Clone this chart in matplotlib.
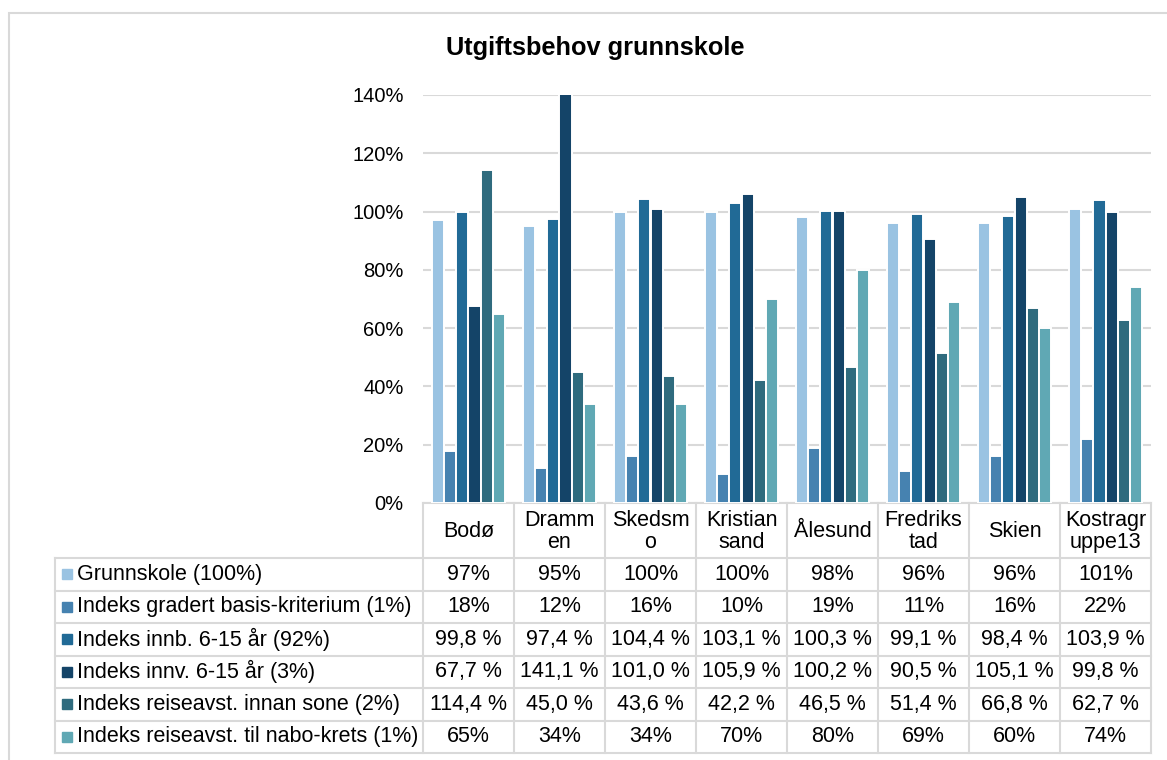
import matplotlib
matplotlib.use("Agg")
import matplotlib.pyplot as plt
from matplotlib.lines import Line2D
from matplotlib.patches import Rectangle
import numpy as np

plt.rcParams['font.family'] = ['Liberation Sans', 'DejaVu Sans']

# ---------------- data ----------------
title = "Utgiftsbehov grunnskole"
category_labels = ["Bodø", "Dramm\nen", "Skedsm\no", "Kristian\nsand", "Ålesund",
                   "Fredriks\ntad", "Skien", "Kostragr\nuppe13"]
series_names = ["Grunnskole (100%)",
                "Indeks gradert basis-kriterium (1%)",
                "Indeks innb. 6-15 år (92%)",
                "Indeks innv. 6-15 år (3%)",
                "Indeks reiseavst. innan sone (2%)",
                "Indeks reiseavst. til nabo-krets (1%)"]
grunnskole = [97, 95, 100, 100, 98, 96, 96, 101]
basis = [18, 12, 16, 10, 19, 11, 16, 22]
innb = [99.8, 97.4, 104.4, 103.1, 100.3, 99.1, 98.4, 103.9]
innv = [67.7, 141.1, 101.0, 105.9, 100.2, 90.5, 105.1, 99.8]
reise_sone = [114.4, 45.0, 43.6, 42.2, 46.5, 51.4, 66.8, 62.7]
reise_nabo = [65, 34, 34, 70, 80, 69, 60, 74]
decimals = [0, 0, 1, 1, 1, 0]   # display format for each table row
yticks = [0, 20, 40, 60, 80, 100, 120, 140]

colors = ["#9AC3E2", "#4682B0", "#216A96", "#144468", "#2F6B7E", "#60A8B4"]
series = [grunnskole, basis, innb, innv, reise_sone, reise_nabo]

# ---------------- layout ----------------
W, H = 1167, 760
fig = plt.figure(figsize=(W / 100, H / 100), dpi=100)

def fx(px):
    return px / W

def fy(py):
    return 1 - py / H

ax_l, ax_r, ax_t, ax_b = 423, 1151, 95, 503
ax = fig.add_axes([fx(ax_l), fy(ax_b), fx(ax_r - ax_l), (ax_b - ax_t) / H])

n_cat = len(category_labels)
n_ser = len(series)
x = np.arange(n_cat)
bw = 0.135
for i, (vals, c) in enumerate(zip(series, colors)):
    ax.bar(x + (i - (n_ser - 1) / 2) * bw, vals, width=bw, color=c,
           edgecolor="white", linewidth=1.4, zorder=3)

ax.set_xlim(-0.5, n_cat - 0.5)
ax.set_ylim(0, 140)
ax.set_yticks(yticks)
ax.set_yticklabels([f"{t}%" for t in yticks], fontsize=14.5)
ax.tick_params(axis="y", length=0, pad=14)
ax.tick_params(axis="x", length=0, labelbottom=False)
ax.grid(axis="y", color="#D9D9D9", linewidth=1.5, zorder=0)
for s in ["top", "right", "left"]:
    ax.spines[s].set_visible(False)
ax.spines["bottom"].set_color("#D9D9D9")
ax.spines["bottom"].set_linewidth(1.5)

# title
fig.text(fx(595), fy(48), title, ha="center", va="center",
         fontsize=18.3, fontweight="bold")

# outer chart border
fig.add_artist(Rectangle((fx(9), fy(H + 5)), fx(W), (H + 5 - 13) / H,
                         fill=False, edgecolor="#D9D9D9", linewidth=1.5,
                         transform=fig.transFigure))

# ---------------- data table ----------------
grid_c = "#D9D9D9"
lw = 1.5
col_w = (ax_r - ax_l) / n_cat
head_t, head_b = ax_b, 558
row_h = 32.5
tab_l = 55
n_rows = len(series)
tab_b = head_b + n_rows * row_h

def hline(y, x0, x1):
    fig.add_artist(Line2D([fx(x0), fx(x1)], [fy(y), fy(y)], color=grid_c,
                          linewidth=lw, transform=fig.transFigure))

def vline(xp, y0, y1):
    fig.add_artist(Line2D([fx(xp), fx(xp)], [fy(y0), fy(y1)], color=grid_c,
                          linewidth=lw, transform=fig.transFigure))

for k in range(n_cat + 1):
    vline(ax_l + k * col_w, head_t, tab_b)
for r in range(n_rows + 1):
    hline(head_b + r * row_h, tab_l, ax_r)
vline(tab_l, head_b, tab_b)

fs = 15.5
for k, lab in enumerate(category_labels):
    fig.text(fx(ax_l + (k + 0.5) * col_w), fy((head_t + head_b) / 2 + 1), lab,
             ha="center", va="center", fontsize=fs, linespacing=1.1)

for r, (name, vals, c, d) in enumerate(zip(series_names, series, colors, decimals)):
    yc = head_b + (r + 0.5) * row_h
    fig.add_artist(Rectangle((fx(62), fy(yc + 5)), fx(10), 10 / H, color=c,
                             transform=fig.transFigure))
    fig.text(fx(77), fy(yc), name, ha="left", va="center", fontsize=fs)
    for k, v in enumerate(vals):
        if d == 0:
            s = f"{v:.0f}%"
        else:
            s = f"{v:.1f} %".replace(".", ",")
        fig.text(fx(ax_l + (k + 0.5) * col_w), fy(yc), s,
                 ha="center", va="center", fontsize=fs)

fig.savefig("out.png", dpi=100)
